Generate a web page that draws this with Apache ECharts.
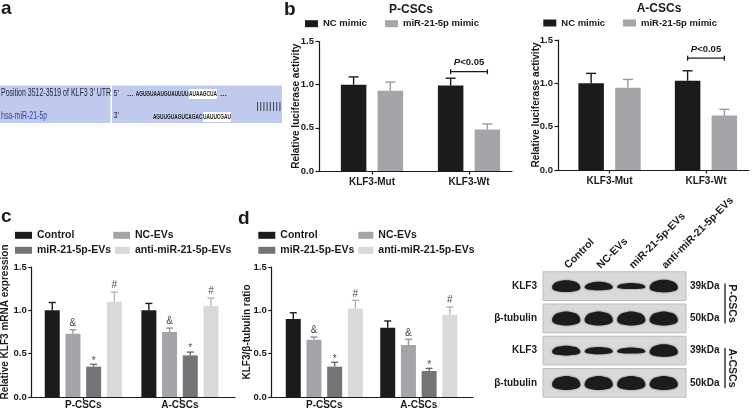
<!DOCTYPE html>
<html><head><meta charset="utf-8">
<script src="https://cdn.jsdelivr.net/npm/echarts@6/dist/echarts.min.js"></script>
<style>html,body{margin:0;padding:0;background:#fff}#c{width:756px;height:412px}</style>
</head><body><div id="c"></div>
<script>
// ---------------- data ----------------
// panel a
const utrLabel = "Position 3512-3519 of KLF3 3' UTR";
const mirLabel = 'hsa-miR-21-5p';
const utrSeq = ['AGUGUAAUGUAUUUU', 'AUAAGCUA'];   // 5' -> 3'
const mirSeq = ['AGUUGUAGUCAGAC', 'UAUUCGAU'];    // 3' -> 5'

// panel b (luciferase)
const lucCats = ['KLF3-Mut', 'KLF3-Wt'];
const lucP_NC = [1.00, 0.99];
const lucP_NC_err = [0.09, 0.085];
const lucP_miR = [0.93, 0.48];
const lucP_miR_err = [0.10, 0.065];
const lucA_NC = [1.00, 1.03];
const lucA_NC_err = [0.115, 0.115];
const lucA_miR = [0.95, 0.63];
const lucA_miR_err = [0.095, 0.07];
const sigLabel = 'P<0.05';
const sigP = [1, 1.15];
const sigA = [1, 1.29];

// panels c, d
const cellCats = ['P-CSCs', 'A-CSCs'];
const mrnaControl = [1.00, 1.00];
const mrnaControl_err = [0.09, 0.08];
const mrnaNC = [0.73, 0.75];
const mrnaNC_err = [0.047, 0.045];
const mrnaMiR = [0.35, 0.48];
const mrnaMiR_err = [0.027, 0.038];
const mrnaAnti = [1.10, 1.05];
const mrnaAnti_err = [0.11, 0.09];
const ratioControl = [0.90, 0.80];
const ratioControl_err = [0.072, 0.077];
const ratioNC = [0.66, 0.60];
const ratioNC_err = [0.032, 0.065];
const ratioMiR = [0.35, 0.30];
const ratioMiR_err = [0.05, 0.03];
const ratioAnti = [1.02, 0.95];
const ratioAnti_err = [0.096, 0.088];
const notesNC = ['&', '&'];
const notesMiR = ['*', '*'];
const notesAnti = ['#', '#'];

// western blot
const blotLanes = ['Control', 'NC-EVs', 'miR-21-5p-EVs', 'anti-miR-21-5p-EVs'];
const blotRows = ['KLF3', 'β-tubulin', 'KLF3', 'β-tubulin'];
const blotSizes = ['39kDa', '50kDa', '39kDa', '50kDa'];
const bandKLF3_P = [0.85, 0.6, 0.42, 0.9];
const bandTub_P = [1, 1, 1, 1];
const bandKLF3_A = [0.7, 0.52, 0.42, 0.9];
const bandTub_A = [1, 1, 1, 1];
const blotBands = [bandKLF3_P, bandTub_P, bandKLF3_A, bandTub_A];

// ---------------- style ----------------
const FF = '"Liberation Sans", Arial, Helvetica, sans-serif';
const INK = '#1a1a1a';
const C_BLACK = '#1b1b1b', C_GREY = '#a4a4a9', C_DARK = '#747478', C_LIGHT = '#d9d9d9';
const E_GREY = '#98989d', E_DARK = '#6a6a6e', E_LIGHT = '#b4b4b4';
const cfgB = {pitch: 36.75, w: 25.5, cap: 10};
const cfgC = {pitch: 20.7, w: 15, cap: 7};

function barSeries(name, gi, values, errs, k, n, cfg, color, errColor, notes) {
  return {
    name, type: 'custom', xAxisIndex: gi, yAxisIndex: gi,
    itemStyle: {color},
    data: values.map((v, i) => [i, v, errs[i]]),
    renderItem: (params, api) => {
      const cat = api.value(0), v = api.value(1), e = api.value(2);
      const p0 = api.coord([cat, 0]), p1 = api.coord([cat, v]), p2 = api.coord([cat, v + e]);
      const cx = p0[0] + (k - (n - 1) / 2) * cfg.pitch;
      const ch = [
        {type: 'line', shape: {x1: cx, y1: p1[1], x2: cx, y2: p2[1]}, style: {stroke: errColor, lineWidth: 1.4}},
        {type: 'line', shape: {x1: cx - cfg.cap / 2, y1: p2[1], x2: cx + cfg.cap / 2, y2: p2[1]}, style: {stroke: errColor, lineWidth: 1.4}},
        {type: 'rect', shape: {x: cx - cfg.w / 2, y: p1[1], width: cfg.w, height: p0[1] - p1[1]}, style: {fill: color}}
      ];
      const note = notes && notes[params.dataIndex];
      if (note) {
        ch.push({type: 'text', x: cx, y: p2[1] - (note === '*' ? -1.5 : 1.5),
          style: {text: note, fill: '#4a4a4a', font: '10px ' + FF, align: 'center', verticalAlign: 'bottom'}});
      }
      return {type: 'group', children: ch};
    }
  };
}

function sigSeries(gi, pt, pitch) {
  return {
    type: 'custom', name: 'sig' + gi, xAxisIndex: gi, yAxisIndex: gi, data: [pt], silent: true,
    renderItem: (params, api) => {
      const c = api.coord([api.value(0), api.value(1)]);
      const h = pitch / 2;
      const st = {stroke: INK, lineWidth: 1.3};
      return {type: 'group', children: [
        {type: 'line', shape: {x1: c[0] - h, y1: c[1], x2: c[0] + h, y2: c[1]}, style: st},
        {type: 'line', shape: {x1: c[0] - h, y1: c[1] - 2.5, x2: c[0] - h, y2: c[1] + 2.5}, style: st},
        {type: 'line', shape: {x1: c[0] + h, y1: c[1] - 2.5, x2: c[0] + h, y2: c[1] + 2.5}, style: st},
        {type: 'text', x: c[0], y: c[1] - 4, style: {
          text: '{i|' + sigLabel.charAt(0) + '}' + sigLabel.slice(1),
          rich: {i: {fontStyle: 'italic', fontWeight: 'bold', fontSize: 9.5, fontFamily: FF, fill: INK}},
          fontWeight: 'bold', fontSize: 9.5, fontFamily: FF, fill: INK, align: 'center', verticalAlign: 'bottom'}}
      ]};
    }
  };
}

function valX(gi, min, max, cats, margin) {
  return {type: 'value', gridIndex: gi, min, max, splitLine: {show: false},
    axisLine: {show: true, onZero: false, lineStyle: {color: INK, width: 1.2}},
    axisTick: {show: true, customValues: [0, 1], length: 3.5, lineStyle: {color: INK, width: 1.2}},
    axisLabel: {customValues: [0, 1], formatter: v => cats[Math.round(v)], margin,
      color: INK, fontSize: 10, fontWeight: 'bold', fontFamily: FF}};
}
function valY(gi, name, nameGap, namePad) {
  return {type: 'value', gridIndex: gi, min: 0, max: 1.5, interval: 0.5, splitLine: {show: false},
    axisLine: {show: true, onZero: false, lineStyle: {color: INK, width: 1.2}},
    axisTick: {show: true, length: 3.5, lineStyle: {color: INK, width: 1.2}},
    axisLabel: {formatter: v => v.toFixed(1), margin: 5, color: INK, fontSize: 9.5, fontWeight: 'bold', fontFamily: FF},
    name, nameLocation: 'middle', nameGap, nameMoveOverlap: false,
    nameTextStyle: {color: INK, fontSize: 10, fontWeight: 'bold', fontFamily: FF, padding: namePad || 0}};
}
function leg(name, left, cy, w, h, fs) {
  return {data: [name], left, top: cy - 6, itemWidth: w, itemHeight: h, icon: 'rect', padding: 0,
    itemGap: 0, selectedMode: false, orient: 'horizontal',
    textStyle: {fontSize: fs, fontWeight: 'bold', color: INK, fontFamily: FF, lineHeight: 12}};
}
function txt(x, y, text, font, extra) {
  return Object.assign({type: 'text', x, y, silent: true,
    style: Object.assign({text, font, fill: INK, verticalAlign: 'middle'}, (extra && extra.style) || {})},
    extra && extra.el || {});
}

// ---------------- graphic (panel a, titles, labels) ----------------
const graphic = [];
graphic.push(txt(1, 8.5, 'a', 'bold 19px ' + FF));
graphic.push(txt(284, 10, 'b', 'bold 19px ' + FF));
graphic.push(txt(1, 216.7, 'c', 'bold 19px ' + FF));
graphic.push(txt(238, 218.3, 'd', 'bold 19px ' + FF));
graphic.push(txt(411, 10, 'P-CSCs', 'bold 12px ' + FF, {style: {align: 'center'}}));
graphic.push(txt(659, 8.5, 'A-CSCs', 'bold 12px ' + FF, {style: {align: 'center'}}));
// panel a
graphic.push({type: 'rect', silent: true, shape: {x: 0, y: 85.5, width: 282, height: 37.5}, style: {fill: '#bfcaee'}});
graphic.push({type: 'rect', silent: true, shape: {x: 110.5, y: 85.5, width: 1.5, height: 37.5}, style: {fill: '#ffffff'}});
graphic.push(txt(1, 93.5, utrLabel, '10.5px ' + FF, {style: {fill: '#26263a'}, el: {scaleX: 0.665}}));
graphic.push(txt(1, 116, mirLabel, '10.5px ' + FF, {style: {fill: '#2d3fa6'}, el: {scaleX: 0.665}}));
graphic.push(txt(113.5, 93.5, "5'", '9px ' + FF, {style: {fill: '#26263a'}, el: {scaleX: 0.8}}));
graphic.push(txt(113.5, 116, "3'", '9px ' + FF, {style: {fill: '#26263a'}, el: {scaleX: 0.8}}));
graphic.push({type: 'rect', silent: true, shape: {x: 189, y: 89, width: 28, height: 10}, style: {fill: '#ffffff'}});
graphic.push({type: 'rect', silent: true, shape: {x: 203, y: 112, width: 28, height: 10}, style: {fill: '#ffffff'}});
graphic.push(txt(127, 94, '...', 'bold 8px ' + FF, {style: {fill: '#222'}}));
graphic.push(txt(188.5, 94, utrSeq[0], 'bold 8px ' + FF, {style: {fill: '#222', align: 'right'}, el: {scaleX: 0.6}}));
graphic.push(txt(203, 94, utrSeq[1], 'bold 8px ' + FF, {style: {fill: '#222', align: 'center'}, el: {scaleX: 0.6}}));
graphic.push(txt(220, 94, '...', 'bold 8px ' + FF, {style: {fill: '#222'}}));
graphic.push(txt(202.5, 117, mirSeq[0], 'bold 8px ' + FF, {style: {fill: '#222', align: 'right'}, el: {scaleX: 0.6}}));
graphic.push(txt(217, 117, mirSeq[1], 'bold 8px ' + FF, {style: {fill: '#222', align: 'center'}, el: {scaleX: 0.6}}));
for (let i = 0; i < utrSeq[1].length; i++) {
  const x = 257.5 + i * 3.2;
  graphic.push({type: 'line', silent: true, shape: {x1: x, y1: 102, x2: x, y2: 111}, style: {stroke: '#333', lineWidth: 0.9}});
}
// blot side brackets
graphic.push({type: 'line', silent: true, shape: {x1: 725, y1: 283.5, x2: 725, y2: 323.5}, style: {stroke: INK, lineWidth: 1.3}});
graphic.push({type: 'line', silent: true, shape: {x1: 725, y1: 348, x2: 725, y2: 388}, style: {stroke: INK, lineWidth: 1.3}});
graphic.push(txt(731.5, 303.5, 'P-CSCs', 'bold 10.5px ' + FF, {style: {align: 'center'}, el: {rotation: -Math.PI / 2}}));
graphic.push(txt(731.5, 368, 'A-CSCs', 'bold 10.5px ' + FF, {style: {align: 'center'}, el: {rotation: -Math.PI / 2}}));

// ---------------- blot series ----------------
const stripSeries = {
  type: 'custom', name: 'strips', xAxisIndex: 4, yAxisIndex: 4, silent: true, z: 1,
  data: blotRows.map((r, i) => [0, i]),
  renderItem: (params, api) => {
    const c = api.coord([0, api.value(1)]);
    const s = api.size([1, 1]);
    const x0 = c[0] - s[0] / 2 - 7, x1 = c[0] + 3.5 * s[0] + 6;
    const h = s[1] * 0.89;
    return {type: 'rect', shape: {x: x0, y: c[1] - h / 2, width: x1 - x0, height: h},
      style: {fill: '#d9d9d9', stroke: '#bdbdbd', lineWidth: 1}};
  }
};
const bandData = [];
blotBands.forEach((row, r) => row.forEach((v, l) => bandData.push([l, r, v])));
const bandSeries = {
  type: 'custom', name: 'bands', xAxisIndex: 4, yAxisIndex: 4, silent: true, z: 2,
  data: bandData,
  renderItem: (params, api) => {
    const c = api.coord([api.value(0), api.value(1)]);
    const s = api.size([1, 1]);
    const w = s[0] * 0.87, h = 12 * api.value(2);
    const x = c[0], y = c[1];
    const pts = [[x - w / 2, y + h * 0.15], [x - w * 0.3, y - h * 0.45], [x + w * 0.3, y - h * 0.45],
      [x + w / 2, y + h * 0.15], [x + w * 0.3, y + h * 0.5], [x - w * 0.3, y + h * 0.5]];
    return {type: 'polygon', shape: {points: pts, smooth: 0.45},
      style: {fill: '#1c1c1c', shadowBlur: 2, shadowColor: 'rgba(0,0,0,0.5)'}};
  }
};

// ---------------- option ----------------
const blotLabel = {color: INK, fontSize: 10, fontWeight: 'bold', fontFamily: FF};
const option = {
  backgroundColor: '#ffffff',
  animation: false,
  graphic,
  grid: [
    {left: 319, top: 41.5, width: 193, height: 129.5, outerBoundsMode: 'none'},
    {left: 558, top: 40, width: 191, height: 130, outerBoundsMode: 'none'},
    {left: 31.7, top: 267, width: 203.3, height: 130, outerBoundsMode: 'none'},
    {left: 271.7, top: 267, width: 201.3, height: 130, outerBoundsMode: 'none'},
    {left: 550, top: 270, width: 130, height: 129, outerBoundsMode: 'none'}
  ],
  legend: [
    leg('NC mimic', 305, 23.7, 13, 7, 9.5),
    leg('miR-21-5p mimic', 385, 23.7, 13, 7, 9.5),
    leg('NC mimic', 543.3, 23, 13, 7, 9.5),
    leg('miR-21-5p mimic', 623, 23, 13, 7, 9.5),
    leg('Control', 15, 235.3, 17, 7, 10.5),
    leg('NC-EVs', 113.3, 235.3, 16.7, 7, 10.5),
    leg('miR-21-5p-EVs', 15, 250.3, 17, 7, 10.5),
    leg('anti-miR-21-5p-EVs', 115, 250.3, 15, 7, 10.5),
    leg('Control', 258.3, 235.3, 17, 7, 10.5),
    leg('NC-EVs', 358.3, 235.3, 15, 7, 10.5),
    leg('miR-21-5p-EVs', 258.3, 250.3, 17, 7, 10.5),
    leg('anti-miR-21-5p-EVs', 358.3, 250.3, 15, 7, 10.5)
  ],
  xAxis: [
    valX(0, -0.546, 1.443, lucCats, 6),
    valX(1, -0.534, 1.446, lucCats, 6),
    valX(2, -0.534, 1.57, cellCats, 3.5),
    valX(3, -0.557, 1.574, cellCats, 3.5),
    {type: 'category', gridIndex: 4, position: 'top', data: blotLanes,
      axisLine: {show: false}, axisTick: {show: false}, splitLine: {show: false},
      axisLabel: Object.assign({rotate: -45, margin: 3, interval: 0, padding: [0, 0, 10, 0]}, blotLabel, {fontSize: 10.5})}
  ],
  yAxis: [
    valY(0, 'Relative luciferase activity', 18),
    valY(1, 'Relative luciferase activity', 17),
    valY(2, 'Relative KLF3 mRNA expression', 21, [0, 0, 0, 20]),
    valY(3, 'KLF3/β-tubulin ratio', 19),
    {type: 'category', gridIndex: 4, data: blotRows, inverse: true,
      axisLine: {show: false}, axisTick: {show: false}, splitLine: {show: false},
      axisLabel: Object.assign({margin: 13, interval: 0}, blotLabel)},
    {type: 'category', gridIndex: 4, position: 'right', data: blotSizes, inverse: true,
      axisLine: {show: false}, axisTick: {show: false}, splitLine: {show: false},
      axisLabel: Object.assign({margin: 10, interval: 0}, blotLabel)}
  ],
  series: [
    barSeries('NC mimic', 0, lucP_NC, lucP_NC_err, 0, 2, cfgB, C_BLACK, C_BLACK),
    barSeries('miR-21-5p mimic', 0, lucP_miR, lucP_miR_err, 1, 2, cfgB, C_GREY, E_GREY),
    barSeries('NC mimic', 1, lucA_NC, lucA_NC_err, 0, 2, cfgB, C_BLACK, C_BLACK),
    barSeries('miR-21-5p mimic', 1, lucA_miR, lucA_miR_err, 1, 2, cfgB, C_GREY, E_GREY),
    sigSeries(0, sigP, cfgB.pitch),
    sigSeries(1, sigA, cfgB.pitch),
    barSeries('Control', 2, mrnaControl, mrnaControl_err, 0, 4, cfgC, C_BLACK, C_BLACK),
    barSeries('NC-EVs', 2, mrnaNC, mrnaNC_err, 1, 4, cfgC, C_GREY, E_GREY, notesNC),
    barSeries('miR-21-5p-EVs', 2, mrnaMiR, mrnaMiR_err, 2, 4, cfgC, C_DARK, E_DARK, notesMiR),
    barSeries('anti-miR-21-5p-EVs', 2, mrnaAnti, mrnaAnti_err, 3, 4, cfgC, C_LIGHT, E_LIGHT, notesAnti),
    barSeries('Control', 3, ratioControl, ratioControl_err, 0, 4, cfgC, C_BLACK, C_BLACK),
    barSeries('NC-EVs', 3, ratioNC, ratioNC_err, 1, 4, cfgC, C_GREY, E_GREY, notesNC),
    barSeries('miR-21-5p-EVs', 3, ratioMiR, ratioMiR_err, 2, 4, cfgC, C_DARK, E_DARK, notesMiR),
    barSeries('anti-miR-21-5p-EVs', 3, ratioAnti, ratioAnti_err, 3, 4, cfgC, C_LIGHT, E_LIGHT, notesAnti),
    stripSeries,
    bandSeries
  ]
};
const chart = echarts.init(document.getElementById('c'), null, {renderer: 'canvas'});
chart.setOption(option);
</script>
</body></html>
